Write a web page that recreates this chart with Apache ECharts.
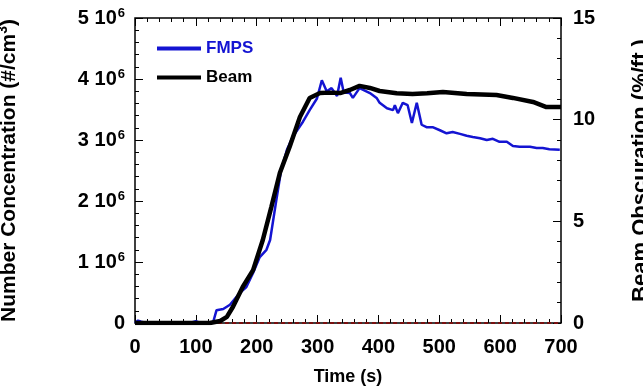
<!DOCTYPE html>
<html>
<head>
<meta charset="utf-8">
<script src="https://cdn.jsdelivr.net/npm/echarts@6/dist/echarts.min.js"></script>
<style>
  html, body { margin: 0; padding: 0; background: #fff; }
  #chart { width: 643px; height: 392px; }
</style>
</head>
<body>
<div id="chart"></div>
<script>
// time axis (s)
var xTicks = [0, 100, 200, 300, 400, 500, 600, 700]

// FMPS number concentration (#/cm3), left axis
var fmpsTime = [0, 5, 10, 20, 90, 100, 105, 115, 128, 134, 145, 156, 172, 183, 194, 205, 216, 222, 232, 240, 250, 259, 276, 287, 299, 307, 315, 323, 332, 338, 343, 353, 358, 369, 386, 397, 402, 414, 424, 427, 432, 440, 448, 455, 463, 471, 479, 489, 501, 512, 522, 534, 545, 555, 567, 578, 588, 599, 611, 621, 632, 649, 660, 670, 681, 698]
var fmpsVal = [0, 0.04, 0.02, 0, 0, 0.03, 0.01, 0, 0, 0.21, 0.23, 0.3, 0.49, 0.59, 0.82, 1.08, 1.2, 1.36, 2.0, 2.5, 2.85, 3.05, 3.3, 3.49, 3.68, 3.98, 3.8, 3.85, 3.72, 4.02, 3.78, 3.77, 3.69, 3.85, 3.77, 3.69, 3.61, 3.52, 3.49, 3.57, 3.44, 3.61, 3.57, 3.28, 3.61, 3.25, 3.21, 3.21, 3.16, 3.11, 3.13, 3.10, 3.07, 3.05, 3.03, 3.0, 3.02, 2.97, 2.97, 2.90, 2.89, 2.89, 2.87, 2.87, 2.85, 2.84] // x 10^6

// Beam obscuration (%/ft.), right axis
var beamTime = [0, 60, 123, 140, 151, 161, 177, 194, 210, 224, 238, 254, 271, 287, 304, 320, 337, 353, 369, 386, 402, 430, 456, 480, 506, 545, 594, 621, 654, 676, 700]
var beamVal = [0, 0, 0, 0.1, 0.3, 0.8, 1.77, 2.6, 4.08, 5.7, 7.38, 8.66, 10.13, 11.07, 11.31, 11.33, 11.31, 11.46, 11.66, 11.56, 11.41, 11.3, 11.26, 11.3, 11.36, 11.26, 11.21, 11.07, 10.87, 10.62, 10.62]

// baseline (dashed, dark red)
var zeroTime = [125, 700]
var zeroVal = [0, 0]

var leftTicks = [0, 1, 2, 3, 4, 5] // x 10^6
var rightTicks = [0, 5, 10, 15]

var font = 'Liberation Sans'
var blue = '#1414d2'

var xMax = xTicks[xTicks.length - 1]
var leftMax = leftTicks[leftTicks.length - 1] * 1e6
var rightMax = rightTicks[rightTicks.length - 1]

function pairs (xs, ys, k) {
  return xs.map(function (x, i) { return [x, ys[i] * (k || 1)] })
}

// 刻度线：用窄 grid 的 splitLine 来画（axisTick 在这里画不出来）
function stripGrid (g) {
  g.outerBoundsMode = 'none'
  return g
}
function stripAxis (grid, max, interval) {
  return {
    type: 'value',
    gridIndex: grid,
    min: 0,
    max: max,
    interval: interval,
    axisLine: { show: false },
    axisTick: { show: false },
    axisLabel: { show: false },
    splitLine: { show: true, lineStyle: { color: '#000', width: 1 } }
  }
}
function hiddenAxis (grid) {
  return { type: 'value', gridIndex: grid, show: false, min: 0, max: 1 }
}

var chart = echarts.init(document.getElementById('chart'))

chart.setOption({
  animation: false,
  grid: [
    { left: 135, right: 82, top: 18, bottom: 69, outerBoundsMode: 'none', show: true, borderColor: '#000', borderWidth: 1.5, backgroundColor: 'transparent' },
    stripGrid({ left: 135, right: 82, top: 18, height: 8 }),
    stripGrid({ left: 135, right: 82, top: 18, height: 4 }),
    stripGrid({ left: 135, right: 82, top: 315, height: 8 }),
    stripGrid({ left: 135, right: 82, top: 319, height: 4 }),
    stripGrid({ left: 135, width: 8, top: 18, bottom: 69 }),
    stripGrid({ left: 135, width: 4, top: 18, bottom: 69 }),
    stripGrid({ left: 553, width: 8, top: 18, bottom: 69 }),
    stripGrid({ left: 557, width: 4, top: 18, bottom: 69 })
  ],
  legend: {
    left: 152,
    top: 35,
    orient: 'vertical',
    icon: 'rect',
    itemWidth: 44,
    itemHeight: 4,
    itemGap: 12,
    data: [
      { name: 'FMPS', textStyle: { color: blue } },
      { name: 'Beam', textStyle: { color: '#000' } }
    ],
    textStyle: { fontFamily: font, fontWeight: 'bold', fontSize: 17 }
  },
  xAxis: [
    {
      type: 'value',
      gridIndex: 0,
      min: xTicks[0],
      max: xMax,
      interval: 100,
      name: 'Time (s)',
      nameLocation: 'middle',
      nameGap: 45,
      nameTextStyle: { fontFamily: font, fontWeight: 'bold', fontSize: 18, color: '#000' },
      axisLine: { show: false },
      axisTick: { show: false },
      splitLine: { show: false },
      axisLabel: { margin: 14, color: '#000', fontFamily: font, fontWeight: 'bold', fontSize: 20 }
    },
    stripAxis(1, xMax, 100),
    stripAxis(2, xMax, 20),
    stripAxis(3, xMax, 100),
    stripAxis(4, xMax, 20),
    hiddenAxis(5),
    hiddenAxis(6),
    hiddenAxis(7),
    hiddenAxis(8)
  ],
  yAxis: [
    {
      type: 'value',
      gridIndex: 0,
      min: 0,
      max: leftMax,
      interval: 1e6,
      name: '{a|Number Concentration (#/cm}{s|3}{a|)}',
      nameLocation: 'middle',
      nameGap: 113,
      nameTextStyle: {
        rich: {
          a: { fontFamily: font, fontWeight: 'bold', fontSize: 21, color: '#000' },
          s: { fontFamily: font, fontWeight: 'bold', fontSize: 14, color: '#000', padding: [0, 0, 12, 0] }
        }
      },
      axisLine: { show: false },
      axisTick: { show: false },
      splitLine: { show: false },
      axisLabel: {
        margin: 10,
        formatter: function (v) {
          if (v === 0) return '{a|0}'
          return '{a|' + (v / 1e6) + ' 10}{s|6}'
        },
        rich: {
          a: { fontFamily: font, fontWeight: 'bold', fontSize: 20, color: '#000' },
          s: { fontFamily: font, fontWeight: 'bold', fontSize: 13, color: '#000', padding: [0, 0, 10, 1] }
        }
      }
    },
    {
      type: 'value',
      gridIndex: 0,
      position: 'right',
      min: 0,
      max: rightMax,
      interval: 5,
      name: 'Beam Obscuration (%/ft.)',
      nameLocation: 'middle',
      nameGap: 69,
      nameRotate: 90,
      nameTextStyle: { fontFamily: font, fontWeight: 'bold', fontSize: 22, color: '#000' },
      axisLine: { show: false },
      axisTick: { show: false },
      splitLine: { show: false },
      axisLabel: { margin: 12, color: '#000', fontFamily: font, fontWeight: 'bold', fontSize: 20 }
    },
    hiddenAxis(1),
    hiddenAxis(2),
    hiddenAxis(3),
    hiddenAxis(4),
    stripAxis(5, leftMax, 1e6),
    stripAxis(6, leftMax, 2e5),
    stripAxis(7, rightMax, 5),
    stripAxis(8, rightMax, 1)
  ],
  series: [
    {
      name: 'zero',
      type: 'line',
      xAxisIndex: 0,
      yAxisIndex: 0,
      showSymbol: false,
      data: pairs(zeroTime, zeroVal),
      lineStyle: { color: '#7a1010', width: 2, type: [4, 3] },
      z: 3
    },
    {
      name: 'FMPS',
      type: 'line',
      xAxisIndex: 0,
      yAxisIndex: 0,
      showSymbol: false,
      symbol: 'none',
      data: pairs(fmpsTime, fmpsVal, 1e6),
      color: blue,
      lineStyle: { color: blue, width: 2.5 },
      z: 4
    },
    {
      name: 'Beam',
      type: 'line',
      xAxisIndex: 0,
      yAxisIndex: 1,
      showSymbol: false,
      symbol: 'none',
      data: pairs(beamTime, beamVal),
      color: '#000',
      lineStyle: { color: '#000', width: 4.5 },
      z: 5
    }
  ]
})
</script>
</body>
</html>
